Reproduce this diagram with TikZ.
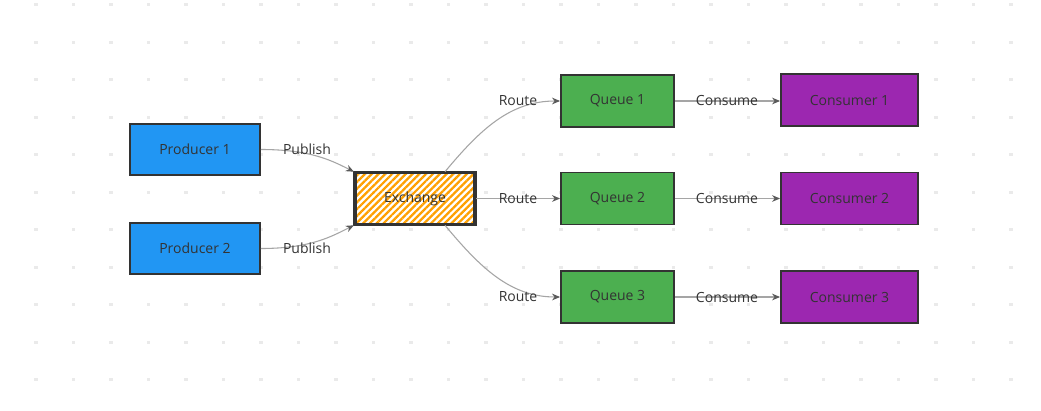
\documentclass[tikz,border=0pt]{standalone}
\usepackage{fontspec}
\setmainfont{Open Sans}
\usepackage{xcolor}
\usepackage{tikz}
\usetikzlibrary{arrows.meta, patterns.meta}

\definecolor{prodblue}{RGB}{33,150,243}
\definecolor{exorange}{RGB}{255,160,0}
\definecolor{queuegreen}{RGB}{76,175,80}
\definecolor{conspurple}{RGB}{156,39,176}
\definecolor{inkgray}{RGB}{51,51,51}
\definecolor{linkgray}{RGB}{165,165,165}
\definecolor{tipgray}{RGB}{90,90,90}
\definecolor{dotgray}{RGB}{234,234,234}

\begin{document}
\begin{tikzpicture}[
    x=0.75pt, y=-0.75pt,
    >=Stealth,
    font=\fontsize{10.5}{12}\selectfont,
    box/.style={draw=inkgray, line width=1.4pt, minimum height=38.5pt,
                align=center, text=inkgray, inner sep=0pt},
    pbox/.style={box, fill=prodblue, minimum width=97.5pt},
    xbox/.style={box, line width=2.3pt, minimum width=90pt,
                 pattern={Lines[angle=45, distance=3.6pt, line width=1.7pt]},
                 pattern color=exorange},
    qbox/.style={box, fill=queuegreen, minimum width=84.75pt, minimum height=39pt},
    cbox/.style={box, fill=conspurple, minimum width=102.75pt, minimum height=39pt},
    flow/.style={draw=linkgray, line width=0.8pt,
                 -{Stealth[length=6pt, width=5pt, color=tipgray]}},
    lbl/.style={text=inkgray, inner sep=1pt},
]
  % Canvas and dot grid
  \useasboundingbox (0,0) rectangle (1041,410);
  \fill[white] (0,0) rectangle (1041,410);
  \foreach \i in {-1,...,27}
    \foreach \j in {0,...,10}
      \fill[dotgray] (36+37.5*\i-1.6, 4.7+37.5*\j-1.6) rectangle ++(3.2,3.2);
  % Producers
  \node[pbox] (prod1) at (195,149.5) {Producer 1};
  \node[pbox] (prod2) at (195,248.5) {Producer 2};
  % Exchange
  \node[xbox] (exch) at (415,198.5) {Exchange};
  % Queues
  \node[qbox] (queue1) at (617.5,101) {Queue 1};
  \node[qbox] (queue2) at (617.5,198.5) {Queue 2};
  \node[qbox] (queue3) at (617.5,297) {Queue 3};
  % Consumers
  \node[cbox] (cons1) at (849.5,100) {Consumer 1};
  \node[cbox] (cons2) at (849.5,198.5) {Consumer 2};
  \node[cbox] (cons3) at (849.5,297) {Consumer 3};
  % Publish arrows
  \draw[flow] (prod1.east) .. controls +(50,0) and +(-22,-11) .. (exch.north west);
  \draw[flow] (prod2.east) .. controls +(50,0) and +(-22,11) .. (exch.south west);
  \node[lbl] (pub1) at (307,149) {Publish};
  \node[lbl] (pub2) at (307,248) {Publish};
  % Route arrows
  \draw[flow] ([xshift=22.5pt]exch.north) .. controls +(35,-42) and +(-50,0) .. (queue1.west);
  \draw[flow] (exch.east) -- (queue2.west);
  \draw[flow] ([xshift=22.5pt]exch.south) .. controls +(35,42) and +(-50,0) .. (queue3.west);
  \node[lbl] (route1) at (518,101) {Route};
  \node[lbl] (route2) at (518,198.5) {Route};
  \node[lbl] (route3) at (518,297) {Route};
  % Consume arrows
  \draw[flow] (queue1.east) -- (cons1.west |- queue1.east);
  \draw[flow] (queue2.east) -- (cons2.west);
  \draw[flow] (queue3.east) -- (cons3.west |- queue3.east);
  \node[lbl] (use1) at (727,100.5) {Consume};
  \node[lbl] (use2) at (727,198.5) {Consume};
  \node[lbl] (use3) at (727,297) {Consume};
\end{tikzpicture}
\end{document}
